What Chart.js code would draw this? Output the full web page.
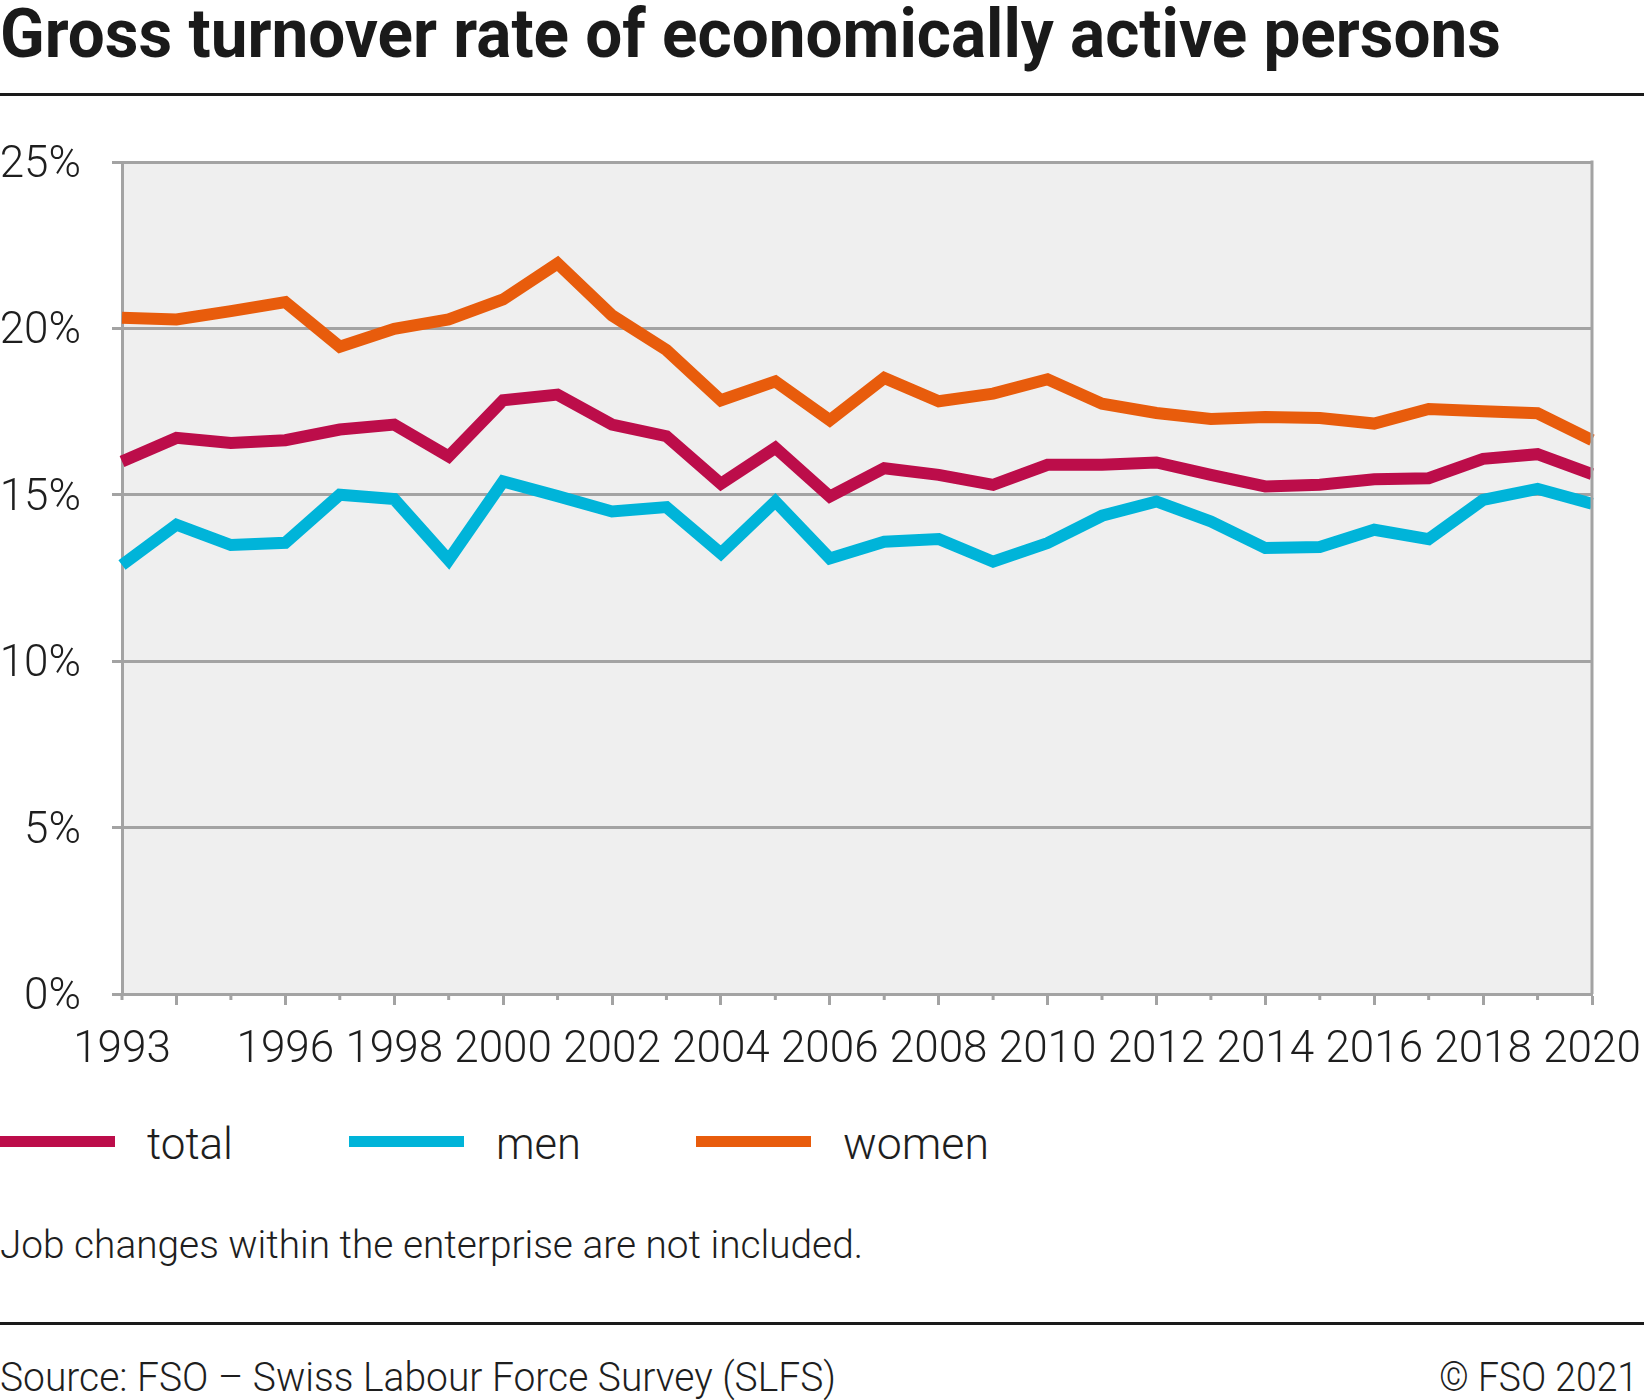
<!DOCTYPE html>
<html>
<head>
<meta charset="utf-8">
<script src="https://cdn.jsdelivr.net/npm/chart.js@4/dist/chart.umd.min.js"></script>
<style>
  html, body { margin: 0; padding: 0; background: #fff; }
  body { width: 1644px; height: 1400px; position: relative; overflow: hidden; font-family: Roboto, "Noto Sans", sans-serif; color: #1e1e1e; }
  .txt { position: absolute; white-space: nowrap; transform-origin: left top; }
  #title { left: 0; top: 0; font-size: 68px; line-height: 68px; font-weight: 700; color: #1a1a1a; }
  .rule { position: absolute; left: 0; width: 1644px; height: 3px; background: #1a1a1a; }
  #chart { position: absolute; left: 0; top: 110px; }
  .legline { position: absolute; width: 115px; height: 11px; }
  .leg { font-size: 44px; line-height: 44px; font-weight: 300; top: 1122px; }
  #note { left: 0; top: 1226px; font-size: 38px; line-height: 38px; font-weight: 300; }
  #source { left: 0; top: 1358px; font-size: 40px; line-height: 40px; font-weight: 300; }
  #copy { top: 1358px; font-size: 40px; line-height: 40px; font-weight: 300; }
</style>
</head>
<body>
<div id="title" class="txt" data-w="1501">Gross turnover rate of economically active persons</div>
<div class="rule" style="top:93px"></div>
<canvas id="chart" width="1644" height="960"></canvas>
<div id="legend"></div>
<div id="note" class="txt" data-w="863">Job changes within the enterprise are not included.</div>
<div class="rule" style="top:1322px"></div>
<div id="source" class="txt" data-w="836">Source: FSO – Swiss Labour Force Survey (SLFS)</div>
<div id="copy" class="txt" data-w="199" data-right="1638">© FSO 2021</div>
<script>
const years = ['1993', '1994', '1995', '1996', '1997', '1998', '1999', '2000', '2001', '2002',
	'2003', '2004', '2005', '2006', '2007', '2008', '2009', '2010', '2011', '2012',
	'2013', '2014', '2015', '2016', '2017', '2018', '2019', '2020'];

const total = [16.0, 16.71, 16.56, 16.64, 16.96, 17.11, 16.15, 17.84, 18.01, 17.11,
	16.76, 15.33, 16.41, 14.95, 15.80, 15.60, 15.30, 15.90, 15.90, 15.97,
	15.60, 15.25, 15.30, 15.47, 15.50, 16.08, 16.22, 15.62];
const men = [12.89, 14.10, 13.49, 13.56, 15.0, 14.87, 13.04, 15.40, 14.96, 14.5,
	14.63, 13.24, 14.80, 13.09, 13.59, 13.67, 12.99, 13.55, 14.37, 14.80,
	14.20, 13.40, 13.43, 13.95, 13.67, 14.85, 15.18, 14.73];
const women = [20.32, 20.27, 20.52, 20.79, 19.45, 19.99, 20.27, 20.87, 21.95, 20.39,
	19.35, 17.84, 18.41, 17.24, 18.51, 17.81, 18.04, 18.47, 17.74, 17.46,
	17.28, 17.34, 17.31, 17.14, 17.58, 17.51, 17.45, 16.64];

const seriesNames = ['total', 'men', 'women'];
const colors = ['#bc0d4a', '#00b4d9', '#e85c0c'];
const yTicks = [0, 5, 10, 15, 20, 25];

const grey = '#a3a3a3';

// plot background + right frame line
let frame = {
	id: 'frame',
	beforeDraw(chart) {
		let a = chart.chartArea, ctx = chart.ctx;
		ctx.save();
		ctx.fillStyle = '#efefef';
		ctx.fillRect(a.left, a.top, a.right - a.left, a.bottom - a.top);
		ctx.restore();
	},
	afterDraw(chart) {
		let a = chart.chartArea, ctx = chart.ctx, x = chart.scales.x;
		ctx.save();
		ctx.strokeStyle = grey;
		ctx.lineWidth = 3;
		ctx.beginPath();
		ctx.moveTo(a.right, a.top - 1.5);
		ctx.lineTo(a.right, a.bottom);
		ctx.stroke();
		// short ticks for odd years
		years.forEach((y, i) => {
			if (+y % 2 === 1) {
				let px = x.getPixelForValue(i);
				ctx.beginPath();
				ctx.moveTo(px, a.bottom);
				ctx.lineTo(px, a.bottom + 6);
				ctx.stroke();
			}
		});
		ctx.restore();
	}
};

let chartData = {
	labels: years,
	datasets: [total, men, women].map((d, i) => ({
		label: seriesNames[i],
		data: d,
		borderColor: colors[i],
		backgroundColor: colors[i],
		borderWidth: 12,
		pointRadius: 0,
		tension: 0,
		borderJoinStyle: 'miter',
		borderCapStyle: 'butt'
	}))
};

new Chart(document.getElementById('chart'), {
	type: 'line',
	data: chartData,
	plugins: [frame],
	options: {
		responsive: false,
		animation: false,
		layout: { padding: { top: 52, right: 52, left: 0, bottom: 0 } },
		plugins: { legend: { display: false }, tooltip: { enabled: false } },
		scales: {
			x: {
				offset: false,
				grid: {
					drawOnChartArea: false,
					tickLength: 11,
					tickWidth: 3,
					tickColor: (c) => (c.tick && +years[c.index] % 2 === 0) ? grey : 'rgba(0,0,0,0)'
				},
				border: { display: true, color: grey, width: 3 },
				ticks: {
					autoSkip: false,
					maxRotation: 0,
					padding: 20,
					color: '#1e1e1e',
					font: { family: 'Roboto', size: 44, weight: 300 },
					callback: function (v, i) {
						let y = years[i];
						return (+y % 2 === 0 && y !== '1994') || y === '1993' ? y : '';
					}
				},
				afterFit: (s) => { s.height = 76; s.paddingLeft = 0; s.paddingRight = 0; }
			},
			y: {
				min: 0,
				max: 25,
				afterBuildTicks: (s) => { s.ticks = yTicks.map(v => ({ value: v })); },
				grid: { color: grey, lineWidth: 3, tickLength: 10, tickColor: grey },
				border: { display: true, color: grey, width: 3 },
				ticks: {
					padding: 31,
					labelOffset: 4,
					color: '#1e1e1e',
					font: { family: 'Roboto', size: 44, weight: 300 },
					callback: (v) => v + '%'
				},
				afterFit: (s) => { s.width = 122; s.paddingTop = 0; s.paddingBottom = 0; }
			}
		}
	}
});

// html legend from the series
let legend = document.getElementById('legend');
let legX = [0, 349, 696];
let legW = [86, 85, 146];
seriesNames.forEach((n, i) => {
	let line = document.createElement('div');
	line.className = 'legline';
	line.style.left = legX[i] + 'px';
	line.style.top = '1136px';
	line.style.background = colors[i];
	legend.appendChild(line);
	let t = document.createElement('div');
	t.className = 'txt leg';
	t.style.left = (legX[i] + 147) + 'px';
	t.textContent = n;
	t.dataset.w = legW[i];
	legend.appendChild(t);
});

// squeeze texts to the condensed widths of the original
document.querySelectorAll('.txt[data-w]').forEach(el => {
	let w = el.getBoundingClientRect().width;
	let k = (+el.dataset.w) / w;
	el.style.transform = 'scaleX(' + k + ')';
	if (el.dataset.right) el.style.left = (+el.dataset.right - +el.dataset.w) + 'px';
});
</script>
</body>
</html>
